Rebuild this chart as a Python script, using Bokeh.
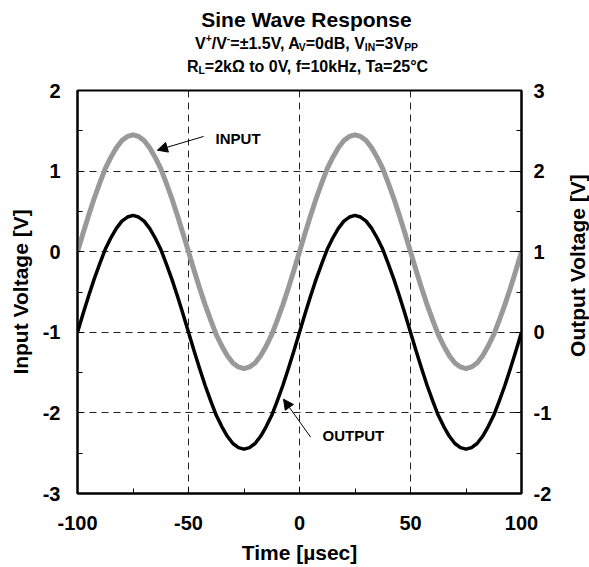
import math
from bokeh.plotting import figure
from bokeh.layouts import column, row
from bokeh.models import Range1d, LinearAxis, FixedTicker, Label, Arrow, NormalHead, ColumnDataSource
from bokeh.embed import file_html
from bokeh.resources import INLINE

# ---------------- data ----------------
time_us = [-100 + 2.5 * i for i in range(81)]
input_v = [0.00, 0.23, 0.45, 0.66, 0.85, 1.03, 1.17, 1.29, 1.38, 1.43, 1.45,
           1.43, 1.38, 1.29, 1.17, 1.03, 0.85, 0.66, 0.45, 0.23, 0.00,
           -0.23, -0.45, -0.66, -0.85, -1.03, -1.17, -1.29, -1.38, -1.43, -1.45,
           -1.43, -1.38, -1.29, -1.17, -1.03, -0.85, -0.66, -0.45, -0.23, 0.00,
           0.23, 0.45, 0.66, 0.85, 1.03, 1.17, 1.29, 1.38, 1.43, 1.45,
           1.43, 1.38, 1.29, 1.17, 1.03, 0.85, 0.66, 0.45, 0.23, 0.00,
           -0.23, -0.45, -0.66, -0.85, -1.03, -1.17, -1.29, -1.38, -1.43, -1.45,
           -1.43, -1.38, -1.29, -1.17, -1.03, -0.85, -0.66, -0.45, -0.23, 0.00]
output_v = [0.00, 0.23, 0.45, 0.66, 0.85, 1.03, 1.17, 1.29, 1.38, 1.43, 1.45,
            1.43, 1.38, 1.29, 1.17, 1.03, 0.85, 0.66, 0.45, 0.23, 0.00,
            -0.23, -0.45, -0.66, -0.85, -1.03, -1.17, -1.29, -1.38, -1.43, -1.45,
            -1.43, -1.38, -1.29, -1.17, -1.03, -0.85, -0.66, -0.45, -0.23, 0.00,
            0.23, 0.45, 0.66, 0.85, 1.03, 1.17, 1.29, 1.38, 1.43, 1.45,
            1.43, 1.38, 1.29, 1.17, 1.03, 0.85, 0.66, 0.45, 0.23, 0.00,
            -0.23, -0.45, -0.66, -0.85, -1.03, -1.17, -1.29, -1.38, -1.43, -1.45,
            -1.43, -1.38, -1.29, -1.17, -1.03, -0.85, -0.66, -0.45, -0.23, 0.00]
x_ticks = [-100, -50, 0, 50, 100]
x_minor = [-75, -25, 25, 75]
left_ticks = [-3, -2, -1, 0, 1, 2]
left_minor = [-2.5, -1.5, -0.5, 0.5, 1.5]
right_ticks = [-2, -1, 0, 1, 2, 3]
right_minor = [-1.5, -0.5, 0.5, 1.5, 2.5]
x_grid = [-50, 0, 50]
y_grid = [-2, -1, 0, 1]

title = "Sine Wave Response"
line2 = [("V", "n"), ("+", "sup"), ("/V", "n"), ("-", "sup"), ("=±1.5V, A", "n"), ("V", "sub"),
         ("=0dB, V", "n"), ("IN", "sub"), ("=3V", "n"), ("PP", "sub")]
line3 = [("R", "n"), ("L", "sub"), ("=2kΩ to 0V, f=10kHz, Ta=25°C", "n")]

FONT = "Liberation Sans"
TOTAL_W, TOTAL_H = 589, 567
TITLE_H = 80
RIGHT_W = 34
PW, PH = TOTAL_W - RIGHT_W, TOTAL_H - TITLE_H
FL, FR, FT, FB = 77, 521, 90 - TITLE_H, 493 - TITLE_H  # frame edges inside the main figure


def blank_fig(w, h, xr, yr):
    f = figure(width=w, height=h, x_range=xr, y_range=yr, output_backend="svg",
               toolbar_location=None, min_border=0, x_axis_location=None, y_axis_location=None)
    f.outline_line_color = None
    f.xgrid.visible = False
    f.ygrid.visible = False
    f.background_fill_color = "white"
    f.border_fill_color = "white"
    return f


# ---------------- title strip ----------------
tfig = blank_fig(TOTAL_W, TITLE_H, Range1d(0, TOTAL_W), Range1d(TITLE_H, 0))

WID = {"V": 667, "+": 584, "/": 278, "-": 333, "=": 584, "±": 549, "1": 556, ".": 278, "5": 556,
       ",": 278, " ": 278, "A": 722, "0": 556, "d": 611, "B": 722, "I": 278, "N": 722, "3": 556,
       "P": 667, "R": 722, "L": 611, "2": 556, "k": 556, "Ω": 768, "t": 333, "o": 611, "f": 333,
       "H": 722, "z": 500, "T": 611, "a": 556, "°": 400, "C": 722}
KERN = {"V,": -190, "Ta": -70}


def tw(s, size):
    units = sum(WID.get(c, 556) for c in s)
    units += sum(KERN.get(s[i:i + 2], 0) for i in range(len(s) - 1))
    return units / 1000.0 * size


def tlabel(f, x, y, text, size, align="left", angle=0.0):
    f.add_layout(Label(x=x, y=y, text=text, angle=angle, text_align=align, text_baseline="middle",
                       text_font=FONT, text_font_style="bold", text_font_size=size,
                       text_color="black"))


def rich_line(segs, cx, cy, base):
    sizes = [base if k == "n" else base * 0.65 for _, k in segs]
    total = sum(tw(t, s) for (t, _), s in zip(segs, sizes))
    x = cx - total / 2
    for (t, k), s in zip(segs, sizes):
        off = 0 if k == "n" else (-0.36 * base if k == "sup" else 0.24 * base)
        tlabel(tfig, x, cy + off, t, f"{s:.1f}px")
        x += tw(t, s)


TCX = 306
tlabel(tfig, TCX, 19, title, "21px", align="center")
rich_line(line2, TCX, 43, 16)
rich_line(line3, TCX, 66, 16)

# ---------------- main chart ----------------
p = figure(width=PW, height=PH, x_range=Range1d(-100, 100), y_range=Range1d(-3, 2),
           output_backend="svg", toolbar_location=None,
           min_border_left=FL, min_border_right=PW - FR, min_border_top=FT, min_border_bottom=PH - FB)
p.extra_y_ranges = {"out": Range1d(-2, 3)}
p.outline_line_color = "black"
p.outline_line_width = 2
p.background_fill_color = "white"
p.border_fill_color = "white"

p.xgrid.ticker = FixedTicker(ticks=x_grid)
p.ygrid.ticker = FixedTicker(ticks=y_grid)
for g in (p.xgrid, p.ygrid):
    g.grid_line_color = "#222222"
    g.grid_line_dash = "7 5"
    g.grid_line_width = 1


def style_axis(ax, standoff, ticks):
    ax.axis_line_width = 2
    ax.axis_line_color = "black"
    ax.major_tick_in = 6
    ax.major_tick_out = 0
    ax.minor_tick_in = 5
    ax.minor_tick_out = 0
    ax.major_tick_line_color = "black"
    ax.minor_tick_line_color = "black"
    ax.major_label_text_font = FONT
    ax.major_label_text_font_style = "bold"
    ax.major_label_text_font_size = "20px"
    ax.major_label_text_color = "black"
    ax.major_label_standoff = standoff
    ax.major_label_overrides = {t: str(t) for t in ticks}
    ax.axis_label_text_font = FONT
    ax.axis_label_text_font_style = "bold"
    ax.axis_label_text_font_size = "21px"
    ax.axis_label_text_color = "black"


xa = p.xaxis[0]
xa.ticker = FixedTicker(ticks=x_ticks, minor_ticks=x_minor)
style_axis(xa, 22, x_ticks)
xa.axis_label = "Time [µsec]"
xa.axis_label_standoff = 8

ya = p.yaxis[0]
ya.ticker = FixedTicker(ticks=left_ticks, minor_ticks=left_minor)
style_axis(ya, 17, left_ticks)
ya.axis_label = "Input Voltage [V]"
ya.axis_label_standoff = 8

ra = LinearAxis(y_range_name="out", ticker=FixedTicker(ticks=right_ticks, minor_ticks=right_minor))
style_axis(ra, 12, right_ticks)
p.add_layout(ra, "right")

src = ColumnDataSource(dict(t=time_us, vin=input_v, vout=output_v))
p.line("t", "vin", source=src, line_color="#999999", line_width=5, line_join="round")
p.line("t", "vout", source=src, line_color="black", line_width=3.5, line_join="round", y_range_name="out")

p.add_layout(Arrow(end=NormalHead(size=10, fill_color="black", line_color="black"),
                   x_start=-43.2, y_start=1.43, x_end=-64.0, y_end=1.26, line_width=1, line_color="black"))
tlabel(p, -37.8, 1.40, "INPUT", "15px")
p.add_layout(Arrow(end=NormalHead(size=10, fill_color="black", line_color="black"),
                   x_start=5.0, y_start=-2.30, x_end=-7.2, y_end=-1.83, line_width=1, line_color="black"))
tlabel(p, 10.4, -2.28, "OUTPUT", "15px")

# ---------------- right-axis title strip ----------------
rfig = blank_fig(RIGHT_W, PH, Range1d(PW, TOTAL_W), Range1d(TOTAL_H, TITLE_H))
tlabel(rfig, 577, (90 + 493) / 2, "Output Voltage [V]", "21px", align="center", angle=math.pi / 2)

layout = column(tfig, row(p, rfig, spacing=0), spacing=0)
open("out.html", "w").write(file_html(layout, INLINE))
